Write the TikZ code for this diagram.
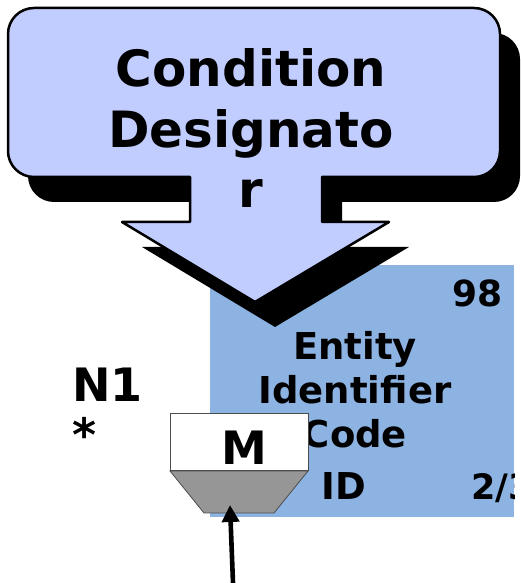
\documentclass[tikz,border=0pt]{standalone}
\usepackage{fontspec}
\setmainfont{DejaVu Sans}
\usetikzlibrary{arrows.meta}
\definecolor{calloutfill}{HTML}{C2CDFF}
\definecolor{segfill}{HTML}{8DB3E2}
\definecolor{trapfill}{HTML}{969696}
\tikzset{
  lbl/.style={inner sep=0pt, outer sep=0pt, font=\bfseries},
  seglbl/.style={lbl, font=\bfseries\fontsize{37}{44}\selectfont},
  boxline/.style={draw=black!70, line width=0.8pt},
}
\begin{document}
\begin{tikzpicture}[x=1pt,y=1pt]
\useasboundingbox (0,0) rectangle (521,583);
% segment box
\fill[segfill] (210,66) rectangle (514,318);
\node[seglbl, anchor=base east, font=\bfseries\fontsize{36}{44}\selectfont] (rep) at (503,276) {98};
% multi-line nodes are anchored at the baseline of their last line
\node[seglbl, anchor=base, align=center] (name) at (355,135) {Entity\\Identifier\\Code};
\node[seglbl, anchor=base] (segid) at (344,83) {ID};
\begin{scope}
  \clip (210,66) rectangle (514,318);
  \node[seglbl, anchor=base west, font=\bfseries\fontsize{35}{44}\selectfont] (pos) at (471,83) {2/3};
\end{scope}
% callout shadow and body
\def\calloutpath{(8,549) arc[start angle=180,end angle=90,radius=26] -- (474,575)
  arc[start angle=90,end angle=0,radius=26] -- (500,432)
  arc[start angle=0,end angle=-90,radius=26] -- (322,406) -- (322,361) -- (389,361)
  -- (255,281) -- (122,361) -- (190,361) -- (190,406) -- (34,406)
  arc[start angle=-90,end angle=-180,radius=26] -- cycle}
\fill[black, shift={(20,-25)}] \calloutpath;
\filldraw[fill=calloutfill, draw=black, line width=2.5pt, line join=round] \calloutpath;
\node[lbl, anchor=base, align=center, font=\bfseries\fontsize{50}{60.5}\selectfont] (cond) at (251,375) {Condition\\Designato\\r};
% loop repeat
\node[lbl, anchor=base west, align=left, font=\bfseries\fontsize{46}{50}\selectfont] (loop) at (72,131) {N1\\*};
% usage marker
\filldraw[fill=trapfill, boxline] (170,112) -- (308,112) -- (274,70) -- (204,70) -- cycle;
\node[boxline, fill=white, minimum width=138pt, minimum height=57pt, inner sep=0pt, anchor=south west] (usage) at (170,112) {};
\node[lbl, anchor=base, font=\bfseries\fontsize{46}{50}\selectfont] (req) at (244,118) {M};
\coordinate (src) at (233,0);
\coordinate (tip) at (230,78);
\draw[line width=4.6pt, -{Triangle[length=17pt,width=17pt]}] (src) -- (tip);
\end{tikzpicture}
\end{document}
